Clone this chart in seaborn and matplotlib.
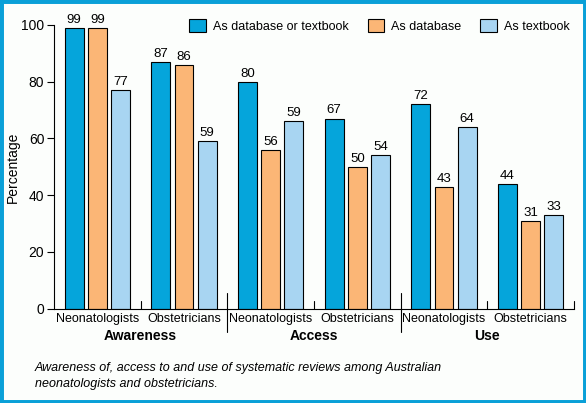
import matplotlib
matplotlib.use("Agg")
import matplotlib.pyplot as plt
from matplotlib.patches import Patch, Rectangle
import matplotlib.transforms as mtransforms
import pandas as pd
import seaborn as sns

# data
groups = ["Awareness", "Access", "Use"]
roles = ["Neonatologists", "Obstetricians"]
series = ["As database or textbook", "As database", "As textbook"]
db_or_tb = [99, 87, 80, 67, 72, 44]
db_only = [99, 86, 56, 50, 43, 31]
tb_only = [77, 59, 66, 54, 64, 33]
# printed labels (the third Access bar is labelled 59 although drawn near 66)
db_or_tb_labels = ["99", "87", "80", "67", "72", "44"]
db_only_labels = ["99", "86", "56", "50", "43", "31"]
tb_only_labels = ["77", "59", "59", "54", "64", "33"]

colors = ["#05A5DB", "#FBB676", "#A8D5F2"]
bg = "#FCFEFC"
frame = "#0AA0D8"

slots = [f"{g}|{r}" for g in groups for r in roles]
rows = []
for name, vals in zip(series, [db_or_tb, db_only, tb_only]):
    for s, v in zip(slots, vals):
        rows.append({"slot": s, "series": name, "value": v})
df = pd.DataFrame(rows)

sns.set_style("white")
plt.rcParams["font.family"] = ["Liberation Sans", "DejaVu Sans"]
plt.rcParams.update({"text.color": "black", "axes.labelcolor": "black",
                     "xtick.color": "black", "ytick.color": "black"})

W, H = 586, 403
fig = plt.figure(figsize=(W / 100, H / 100), dpi=100, facecolor=bg)
x0, x1, ytop, ybot = 54, 574, 25, 308.5
ax = fig.add_axes([x0 / W, 1 - ybot / H, (x1 - x0) / W, (ybot - ytop) / H])
ax.set_facecolor(bg)

sns.barplot(data=df, x="slot", y="value", hue="series", order=slots,
            hue_order=series, palette=colors, saturation=1, width=0.8, gap=0.18,
            edgecolor="black", linewidth=0.8, legend=False, ax=ax)

for cont, labs in zip(ax.containers, [db_or_tb_labels, db_only_labels, tb_only_labels]):
    ax.bar_label(cont, labels=labs, padding=1.5, fontsize=9.5, color="black",
                 clip_on=False)

ax.set_ylim(0, 100)
ax.set_xlim(-0.5, 5.5)
ax.set_yticks(range(0, 101, 20))
ax.tick_params(axis="y", direction="out", length=5, width=0.8, labelsize=10, pad=2,
               left=True)
ax.set_xticks(range(6))
ax.set_xticklabels([r for g in groups for r in roles], fontsize=9)
ax.tick_params(axis="x", length=0, pad=3)
ax.set_xlabel("")
ax.set_ylabel("")
for side in ["top", "right"]:
    ax.spines[side].set_visible(False)
for side in ["left", "bottom"]:
    ax.spines[side].set_color("black")
    ax.spines[side].set_linewidth(0.8)

trans = mtransforms.blended_transform_factory(ax.transData, ax.transAxes)
axh = ybot - ytop
for xp in [0.5, 2.5, 4.5, 5.5]:
    ax.plot([xp, xp], [0, 8 / axh], color="black", lw=0.8, transform=trans, clip_on=False)
for xp in [1.5, 3.5]:
    ax.plot([xp, xp], [16 / axh, -23 / axh], color="black", lw=0.8, transform=trans,
            clip_on=False)
for i, g in enumerate(groups):
    ax.text(2 * i + 0.5, -(336 - ybot) / axh, g, transform=trans, ha="center",
            va="center", fontsize=10, fontweight="bold")

fig.text(13 / W, 1 - 167 / H, "Percentage", rotation=90, ha="center", va="center",
         fontsize=10)

handles = [Patch(facecolor=c, edgecolor="black", linewidth=0.8) for c in colors]
fig.legend(handles, series, loc="center", bbox_to_anchor=(379.5 / W, 1 - 26 / H),
           ncol=3, frameon=False, fontsize=9, handlelength=1.35, handleheight=1.2,
           handletextpad=0.55, columnspacing=1.5, borderaxespad=0)

fig.text(35 / W, 1 - 368 / H,
         "Awareness of, access to and use of systematic reviews among Australian",
         style="italic", fontsize=9, va="center", ha="left")
fig.text(35 / W, 1 - 384 / H, "neonatologists and obstetricians.",
         style="italic", fontsize=9, va="center", ha="left")

fig.patches.append(Rectangle((0, 0), 1, 1, transform=fig.transFigure, fill=False,
                             edgecolor=frame, linewidth=5, zorder=10))

fig.savefig("out.png", dpi=100, facecolor=bg)
